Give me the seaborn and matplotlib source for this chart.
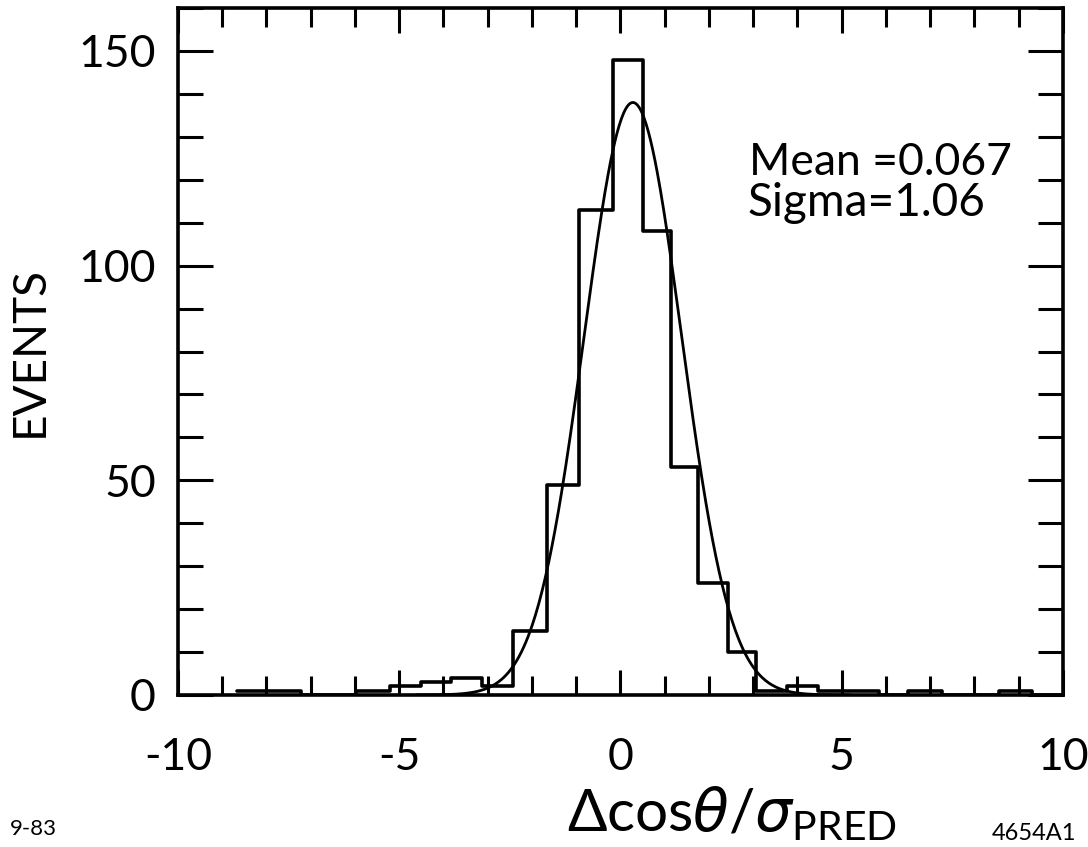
import numpy as np
import pandas as pd
import matplotlib
matplotlib.use("Agg")
import matplotlib.pyplot as plt
import seaborn as sns

# ---- data ----
bin_edges = [-8.66, -7.94, -7.21, -5.97, -5.22, -4.50, -3.82, -3.12, -2.42,
             -1.67, -0.93, -0.18, 0.52, 1.15, 1.76, 2.42, 3.07, 3.77, 4.47,
             5.17, 5.85, 6.49, 7.26, 8.56, 9.31, 10.0]
counts = [1, 1, 0, 1, 2, 3, 4, 2, 15, 49, 113, 148, 108, 53, 26, 10,
          1, 2, 1, 1, 0, 1, 0, 1, 0]
x_ticks_major = [-10, -5, 0, 5, 10]
x_tick_labels = ["-10", "-5", "0", "5", "10"]
y_ticks_major = [0, 50, 100, 150]
y_tick_labels = ["0", "50", "100", "150"]
fit_peak = 138.0
fit_center = 0.28
fit_sigma = 1.10
stat_lines = ["Mean =0.067", "Sigma=1.06"]

sns.set_style("ticks")
plt.rcParams["font.family"] = ["Lato", "DejaVu Sans"]
plt.rcParams["text.color"] = "black"
plt.rcParams["axes.labelcolor"] = "black"
plt.rcParams["xtick.color"] = "black"
plt.rcParams["ytick.color"] = "black"
plt.rcParams["mathtext.fontset"] = "custom"
plt.rcParams["mathtext.rm"] = "Lato"
plt.rcParams["mathtext.it"] = "DejaVu Sans:italic"

fig = plt.figure(figsize=(10.88, 8.47), dpi=100)
ax = fig.add_axes([0.1636, 0.1795, 0.8134, 0.811])

centers = [(bin_edges[i] + bin_edges[i + 1]) / 2 for i in range(len(counts))]
df = pd.DataFrame({"x": centers, "w": counts})
sns.histplot(data=df, x="x", weights="w", bins=bin_edges, element="step",
             fill=False, color="black", linewidth=2.6, ax=ax)

xs = np.linspace(-4.6, 5.2, 400)
ys = fit_peak * np.exp(-0.5 * ((xs - fit_center) / fit_sigma) ** 2)
sns.lineplot(x=xs, y=ys, color="black", linewidth=2.0, ax=ax)

ax.set_xlim(-10, 10)
ax.set_ylim(0, 160)
ax.set_xticks(x_ticks_major)
ax.set_xticklabels(x_tick_labels)
ax.set_xticks(np.arange(-10, 11, 1), minor=True)
ax.set_yticks(y_ticks_major)
ax.set_yticklabels(y_tick_labels)
ax.set_yticks(np.arange(0, 161, 10), minor=True)

ax.tick_params(axis="both", which="both", direction="in", top=True, right=True,
               width=2.2, colors="black", labelcolor="black")
ax.tick_params(axis="x", which="major", length=18, labelsize=32, pad=30)
ax.tick_params(axis="x", which="minor", length=14)
ax.tick_params(axis="y", which="major", length=25, labelsize=32, pad=16)
ax.tick_params(axis="y", which="minor", length=18)

for s in ax.spines.values():
    s.set_visible(True)
    s.set_linewidth(2.6)
    s.set_color("black")

ax.set_xlabel(r"$\Delta\mathrm{cos}\mathit{\theta}/\mathit{\sigma}_{\mathrm{PRED}}$",
              fontsize=42, color="black")
ax.xaxis.set_label_coords(0.626, -0.13)
ax.set_ylabel("EVENTS", fontsize=33, labelpad=20, color="black")

ax.text(2.9, 121, stat_lines[0], fontsize=32, va="baseline", ha="left",
        color="black")
ax.text(2.86, 111.5, stat_lines[1], fontsize=33, va="baseline", ha="left",
        color="black")

fig.text(10 / 1088, 1 - 835 / 847, "9-83", fontsize=16, va="baseline",
         ha="left", color="black")
fig.text(1076 / 1088, 1 - 840 / 847, "4654A1", fontsize=17, va="baseline",
         ha="right", color="black")

fig.savefig("out.png", dpi=100)
